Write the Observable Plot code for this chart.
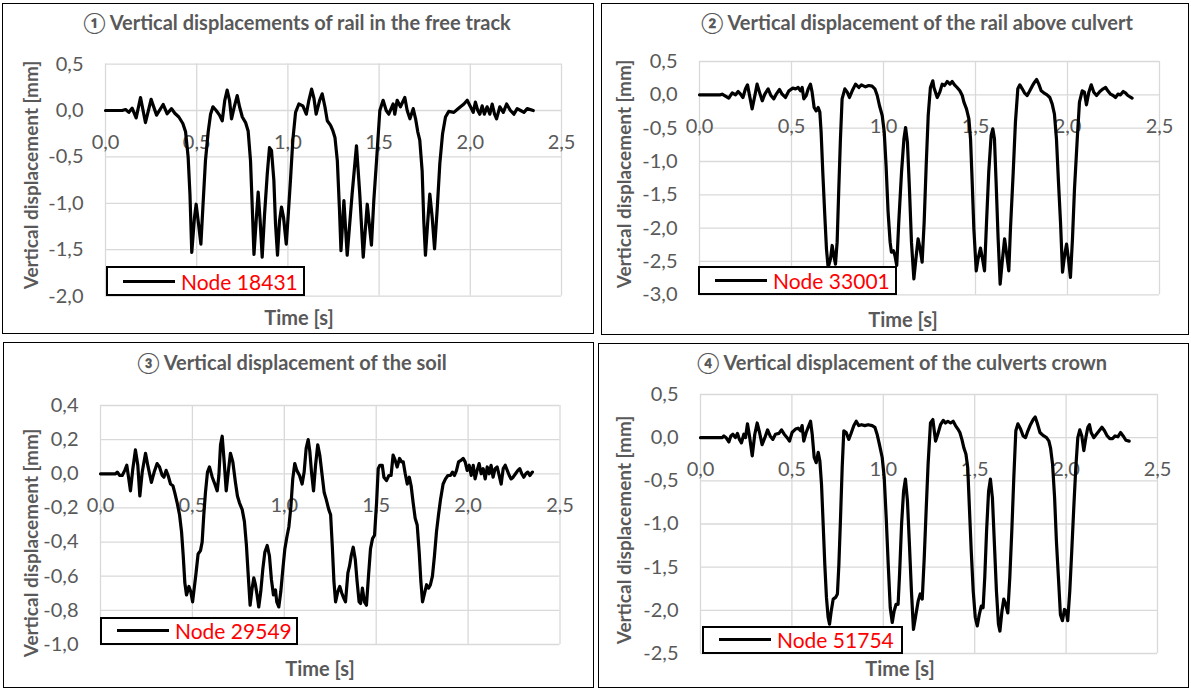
<!DOCTYPE html>
<html>
<head>
<meta charset="utf-8">
<script src="https://cdn.jsdelivr.net/npm/d3@7"></script>
<script src="https://cdn.jsdelivr.net/npm/@observablehq/plot@0.6"></script>
<style>
  body { margin: 0; background: #fff; }
  #page { position: relative; width: 1191px; height: 689px; overflow: hidden; font-family: Lato, "Open Sans", sans-serif; }
  .frame { position: absolute; border: 1.5px solid #000; box-sizing: border-box; }
  .plotbox { position: absolute; }
  .title { position: absolute; transform: translate(-50%, -50%); font-weight: 700; color: #595959; font-size: 20px; white-space: nowrap; }
  .ytitle { position: absolute; transform: translate(-50%, -50%) rotate(-90deg); font-weight: 700; color: #595959; font-size: 19px; white-space: nowrap; }
  .xtitle { position: absolute; transform: translate(-50%, -50%); font-weight: 700; color: #595959; font-size: 20px; white-space: nowrap; }
  .legend { position: absolute; border: 2px solid #000; background: #fff; box-sizing: border-box; display: flex; align-items: center; }
  .legend .swatch { width: 52px; height: 3px; background: #000; margin-left: 15px; margin-right: 6px; }
  .legend .label { color: #ff0000; font-size: 21px; white-space: nowrap; }
</style>
</head>
<body>
<div id="page"></div>
<script>
// Time [s] / vertical displacement [mm] samples for each monitored node
const freeTrack = [[0,0],[0.091,0],[0.110,0.01],[0.128,-0.02],[0.146,0.025],[0.168,-0.08],[0.192,0.14],[0.219,-0.13],[0.250,0.12],[0.280,-0.05],[0.316,0.065],[0.338,-0.035],[0.362,0.02],[0.380,-0.03],[0.402,-0.07],[0.424,-0.14],[0.439,-0.23],[0.453,-0.50],[0.463,-0.90],[0.473,-1.53],[0.488,-1.15],[0.497,-1.01],[0.508,-1.19],[0.523,-1.44],[0.534,-1.04],[0.548,-0.54],[0.563,-0.23],[0.576,-0.04],[0.589,0.04],[0.607,0],[0.625,-0.05],[0.640,-0.11],[0.654,0.11],[0.667,0.22],[0.680,0.11],[0.691,-0.09],[0.706,0.04],[0.722,0.16],[0.735,0.04],[0.750,-0.07],[0.768,-0.13],[0.782,-0.22],[0.795,-0.54],[0.804,-1.01],[0.814,-1.55],[0.826,-1.19],[0.837,-0.88],[0.848,-1.19],[0.859,-1.58],[0.872,-1.12],[0.887,-0.68],[0.899,-0.40],[0.910,-0.43],[0.923,-0.75],[0.932,-1.22],[0.943,-1.56],[0.954,-1.19],[0.965,-1.04],[0.976,-1.15],[0.991,-1.44],[1.002,-1.12],[1.015,-0.72],[1.027,-0.32],[1.042,-0.02],[1.060,0.07],[1.082,0.05],[1.101,-0.04],[1.115,0.11],[1.130,0.23],[1.143,0.13],[1.155,-0.04],[1.174,0.11],[1.188,0.18],[1.203,0.04],[1.216,-0.11],[1.234,-0.16],[1.247,-0.22],[1.258,-0.29],[1.271,-0.54],[1.283,-1.08],[1.291,-1.51],[1.307,-0.97],[1.325,-1.56],[1.352,-0.90],[1.376,-0.38],[1.394,-0.90],[1.413,-1.58],[1.435,-1.01],[1.458,-1.45],[1.471,-0.97],[1.486,-0.54],[1.504,0],[1.522,0.11],[1.539,0],[1.553,-0.04],[1.577,0.07],[1.586,-0.04],[1.599,0.11],[1.617,0.04],[1.641,0.14],[1.654,0],[1.669,-0.09],[1.687,0.02],[1.700,-0.09],[1.712,-0.23],[1.723,-0.32],[1.736,-0.65],[1.745,-1.19],[1.754,-1.56],[1.767,-1.19],[1.778,-0.90],[1.791,-1.15],[1.804,-1.49],[1.818,-1.08],[1.833,-0.57],[1.848,-0.25],[1.864,-0.07],[1.882,-0.01],[1.910,-0.02],[1.928,0.01],[1.946,0.04],[1.965,0.07],[1.983,0.11],[2.001,0.04],[2.016,-0.02],[2.028,0.09],[2.041,0],[2.052,-0.04],[2.065,0.05],[2.077,-0.04],[2.092,0.04],[2.107,-0.04],[2.120,0.07],[2.133,-0.04],[2.144,-0.09],[2.162,0.04],[2.181,-0.02],[2.199,0.07],[2.220,0],[2.239,-0.04],[2.257,0.02],[2.276,0],[2.294,-0.02],[2.312,0.02],[2.345,0]];

const railAboveCulvert = [[0,0],[0.114,0],[0.123,0.01],[0.141,-0.02],[0.159,-0.05],[0.178,0.03],[0.196,0],[0.210,0.05],[0.223,0.01],[0.236,-0.04],[0.250,0.09],[0.261,0.15],[0.272,-0.01],[0.286,-0.21],[0.301,-0.01],[0.313,0.16],[0.326,0.04],[0.341,-0.09],[0.355,0.01],[0.373,0.09],[0.388,-0.01],[0.404,-0.06],[0.417,0.01],[0.435,0.08],[0.449,0.01],[0.467,-0.04],[0.486,0.06],[0.507,0.10],[0.522,0.09],[0.536,0.11],[0.549,0.06],[0.558,0.11],[0.567,-0.06],[0.580,-0.01],[0.591,0.09],[0.603,0.16],[0.612,0.04],[0.623,-0.19],[0.634,-0.24],[0.645,-0.19],[0.654,-0.26],[0.661,-0.56],[0.670,-1.16],[0.681,-1.81],[0.690,-2.31],[0.699,-2.59],[0.712,-2.46],[0.721,-2.26],[0.730,-2.41],[0.739,-2.54],[0.748,-2.21],[0.757,-1.41],[0.766,-0.66],[0.775,-0.06],[0.790,0.09],[0.803,0.04],[0.815,-0.04],[0.830,0.06],[0.848,0.16],[0.866,0.11],[0.880,0.15],[0.902,0.12],[0.920,0.14],[0.938,0.13],[0.953,0.09],[0.966,-0.01],[0.978,-0.16],[0.993,-0.31],[1.004,-0.56],[1.014,-1.06],[1.025,-1.76],[1.036,-2.21],[1.043,-2.36],[1.054,-2.34],[1.062,-2.41],[1.072,-2.56],[1.083,-1.91],[1.098,-1.16],[1.111,-0.66],[1.120,-0.49],[1.130,-0.71],[1.141,-1.41],[1.152,-2.21],[1.165,-2.76],[1.178,-2.41],[1.188,-2.16],[1.199,-2.31],[1.210,-2.51],[1.221,-1.91],[1.232,-1.06],[1.243,-0.31],[1.255,0.11],[1.268,0.21],[1.274,0.11],[1.292,-0.04],[1.306,0.04],[1.319,0.16],[1.332,0.14],[1.346,0.20],[1.361,0.16],[1.373,0.20],[1.386,0.15],[1.400,0.11],[1.415,0.06],[1.428,-0.01],[1.437,-0.11],[1.451,-0.21],[1.464,-0.36],[1.473,-0.66],[1.482,-1.31],[1.491,-2.01],[1.504,-2.64],[1.514,-2.46],[1.527,-2.30],[1.538,-2.46],[1.549,-2.64],[1.560,-1.91],[1.572,-1.16],[1.585,-0.61],[1.594,-0.51],[1.603,-0.66],[1.612,-1.31],[1.623,-2.16],[1.634,-2.84],[1.645,-2.51],[1.658,-2.16],[1.668,-2.36],[1.681,-2.64],[1.690,-2.01],[1.705,-1.16],[1.717,-0.41],[1.730,0.09],[1.741,0.15],[1.754,0.09],[1.766,0.03],[1.781,-0.01],[1.795,0.06],[1.808,0.13],[1.821,0.19],[1.832,0.23],[1.844,0.16],[1.857,0.06],[1.871,0.03],[1.889,0],[1.904,-0.04],[1.917,-0.14],[1.929,-0.29],[1.940,-0.66],[1.951,-1.31],[1.962,-1.91],[1.973,-2.66],[1.984,-2.41],[1.995,-2.24],[2.005,-2.46],[2.016,-2.74],[2.027,-2.16],[2.038,-1.41],[2.053,-0.66],[2.065,-0.11],[2.080,0.06],[2.092,0.04],[2.103,-0.15],[2.116,0.04],[2.129,0.15],[2.143,0.04],[2.158,-0.01],[2.176,0.05],[2.194,0.09],[2.207,0.11],[2.219,0.06],[2.234,0.01],[2.248,-0.01],[2.261,-0.04],[2.274,0.01],[2.288,0],[2.303,0.05],[2.315,0.03],[2.328,-0.01],[2.351,-0.05]];

const soil = [[0,0],[0.082,0],[0.091,0.01],[0.105,-0.01],[0.118,-0.01],[0.132,0.02],[0.143,0.05],[0.154,-0.03],[0.163,-0.10],[0.176,0.03],[0.190,0.14],[0.203,0.05],[0.214,-0.13],[0.227,0.01],[0.245,0.12],[0.259,0.04],[0.277,-0.05],[0.292,0.01],[0.308,0.06],[0.321,0.04],[0.336,-0.01],[0.345,-0.02],[0.357,0.02],[0.368,-0.01],[0.381,-0.06],[0.394,-0.07],[0.404,-0.11],[0.417,-0.17],[0.430,-0.24],[0.441,-0.34],[0.450,-0.48],[0.459,-0.64],[0.468,-0.71],[0.481,-0.66],[0.491,-0.69],[0.501,-0.75],[0.510,-0.67],[0.520,-0.58],[0.531,-0.47],[0.544,-0.45],[0.553,-0.40],[0.562,-0.24],[0.571,-0.11],[0.582,0.01],[0.593,0.04],[0.608,-0.02],[0.622,-0.06],[0.635,-0.10],[0.644,-0.01],[0.653,0.17],[0.662,0.22],[0.673,0.07],[0.684,-0.10],[0.695,0.01],[0.707,0.12],[0.720,0.07],[0.734,-0.05],[0.745,-0.13],[0.756,-0.17],[0.771,-0.21],[0.783,-0.28],[0.794,-0.42],[0.803,-0.58],[0.814,-0.77],[0.825,-0.67],[0.834,-0.61],[0.843,-0.65],[0.852,-0.71],[0.861,-0.78],[0.872,-0.69],[0.883,-0.56],[0.894,-0.46],[0.907,-0.42],[0.919,-0.48],[0.930,-0.62],[0.941,-0.71],[0.952,-0.68],[0.959,-0.75],[0.970,-0.78],[0.981,-0.69],[0.992,-0.56],[1.003,-0.44],[1.014,-0.37],[1.025,-0.31],[1.036,-0.19],[1.046,-0.03],[1.057,0.06],[1.068,0.02],[1.083,-0.01],[1.097,-0.06],[1.108,0.01],[1.119,0.15],[1.130,0.20],[1.139,0.13],[1.148,0.01],[1.159,-0.10],[1.170,0.05],[1.182,0.17],[1.193,0.11],[1.206,-0.01],[1.217,-0.11],[1.228,-0.15],[1.242,-0.21],[1.252,-0.24],[1.261,-0.42],[1.270,-0.63],[1.279,-0.75],[1.291,-0.69],[1.302,-0.66],[1.313,-0.70],[1.324,-0.73],[1.333,-0.75],[1.346,-0.58],[1.355,-0.54],[1.364,-0.48],[1.375,-0.43],[1.386,-0.50],[1.396,-0.63],[1.407,-0.75],[1.415,-0.76],[1.425,-0.67],[1.436,-0.75],[1.447,-0.77],[1.458,-0.60],[1.469,-0.44],[1.480,-0.38],[1.491,-0.36],[1.502,-0.17],[1.511,0.03],[1.520,0.05],[1.533,0.05],[1.542,-0.02],[1.556,-0.04],[1.569,-0.01],[1.581,-0.01],[1.592,0.11],[1.603,0.08],[1.614,0.04],[1.627,0.09],[1.638,0.07],[1.647,0.07],[1.658,0],[1.669,-0.06],[1.680,-0.02],[1.690,-0.07],[1.701,-0.17],[1.712,-0.26],[1.723,-0.30],[1.734,-0.46],[1.743,-0.63],[1.752,-0.75],[1.763,-0.70],[1.774,-0.65],[1.785,-0.67],[1.795,-0.65],[1.806,-0.60],[1.817,-0.48],[1.828,-0.34],[1.839,-0.24],[1.850,-0.15],[1.864,-0.06],[1.877,-0.03],[1.890,-0.01],[1.904,-0.01],[1.915,0.01],[1.926,-0.01],[1.937,0.02],[1.948,0.07],[1.963,0.08],[1.973,0.09],[1.984,0.07],[1.995,0.02],[2.006,0.05],[2.017,-0.01],[2.028,0.05],[2.038,-0.03],[2.049,0.02],[2.060,0.06],[2.071,0],[2.082,0.03],[2.093,-0.03],[2.104,0.04],[2.115,0],[2.125,0.05],[2.136,-0.02],[2.147,0.03],[2.158,0.04],[2.169,-0.01],[2.180,-0.06],[2.191,0.03],[2.202,0.05],[2.213,0.02],[2.224,-0.01],[2.234,-0.03],[2.245,-0.02],[2.258,0],[2.271,0.02],[2.281,0.03],[2.292,0],[2.303,-0.02],[2.314,0],[2.325,0.01],[2.336,-0.01],[2.350,0.01]];

const culvertCrown = [[0,0],[0.119,0],[0.128,0.02],[0.140,0],[0.155,-0.05],[0.166,0.02],[0.177,0.04],[0.191,0],[0.202,0.05],[0.213,-0.02],[0.224,-0.06],[0.237,0.04],[0.246,0],[0.257,0.16],[0.268,0.02],[0.283,-0.21],[0.297,0.04],[0.310,0.17],[0.323,0.06],[0.337,-0.08],[0.352,0],[0.367,0.09],[0.381,0.02],[0.396,-0.02],[0.410,0.04],[0.429,0.05],[0.443,0.09],[0.458,0.04],[0.474,0],[0.487,-0.04],[0.501,0.06],[0.520,0.10],[0.534,0.11],[0.547,0.08],[0.556,0.14],[0.565,-0.04],[0.578,0.06],[0.589,0.12],[0.602,0.19],[0.611,0.04],[0.622,-0.23],[0.633,-0.29],[0.644,-0.17],[0.653,-0.27],[0.662,-0.54],[0.671,-1.00],[0.680,-1.47],[0.689,-1.85],[0.698,-2.08],[0.706,-2.16],[0.715,-2.01],[0.726,-1.87],[0.739,-1.85],[0.749,-1.81],[0.757,-1.47],[0.766,-0.93],[0.775,-0.35],[0.784,0.08],[0.797,0.06],[0.811,-0.02],[0.822,0.04],[0.839,0.14],[0.852,0.19],[0.866,0.14],[0.881,0.15],[0.899,0.14],[0.917,0.15],[0.939,0.14],[0.954,0.12],[0.966,0.04],[0.979,-0.08],[0.994,-0.23],[1.005,-0.46],[1.016,-0.93],[1.027,-1.47],[1.038,-1.97],[1.049,-2.14],[1.059,-2.01],[1.070,-1.93],[1.081,-1.93],[1.089,-1.58],[1.100,-1.00],[1.111,-0.62],[1.121,-0.48],[1.132,-0.73],[1.143,-1.24],[1.154,-1.78],[1.165,-2.22],[1.176,-2.08],[1.191,-1.89],[1.202,-1.81],[1.213,-1.87],[1.224,-1.39],[1.235,-0.81],[1.245,-0.31],[1.258,0.17],[1.271,0.21],[1.286,-0.04],[1.298,0.04],[1.313,0.15],[1.328,0.20],[1.340,0.17],[1.353,0.19],[1.368,0.17],[1.382,0.19],[1.395,0.14],[1.408,0.10],[1.419,0.06],[1.430,-0.02],[1.441,-0.12],[1.452,-0.19],[1.462,-0.35],[1.471,-0.81],[1.481,-1.31],[1.492,-1.78],[1.503,-2.08],[1.514,-2.18],[1.525,-2.05],[1.536,-1.95],[1.546,-1.97],[1.555,-1.62],[1.565,-1.08],[1.576,-0.62],[1.586,-0.48],[1.597,-0.70],[1.608,-1.24],[1.619,-1.78],[1.630,-2.16],[1.638,-2.24],[1.649,-2.01],[1.659,-1.87],[1.670,-1.93],[1.681,-2.03],[1.692,-1.62],[1.703,-1.08],[1.714,-0.46],[1.725,0.08],[1.736,0.16],[1.751,0.10],[1.765,0.02],[1.778,0],[1.791,0.08],[1.805,0.15],[1.820,0.21],[1.831,0.24],[1.842,0.17],[1.857,0.06],[1.867,0.04],[1.878,0.02],[1.893,0],[1.906,-0.04],[1.915,-0.12],[1.926,-0.31],[1.937,-0.69],[1.947,-1.20],[1.958,-1.62],[1.969,-2.05],[1.980,-2.12],[1.991,-1.99],[2.000,-2.01],[2.009,-2.12],[2.020,-1.78],[2.031,-1.31],[2.042,-0.81],[2.053,-0.35],[2.064,0],[2.075,0.09],[2.086,0.02],[2.097,-0.15],[2.108,0],[2.119,0.12],[2.128,0.15],[2.137,0.06],[2.152,0],[2.166,0.04],[2.181,0.08],[2.196,0.12],[2.210,0.08],[2.225,0.02],[2.239,-0.01],[2.254,-0.01],[2.268,0.02],[2.283,0.01],[2.298,0.06],[2.312,0.02],[2.327,-0.03],[2.345,-0.04]];

// Axis ticks
const timeTicks = [0, 0.5, 1, 1.5, 2, 2.5];
const railFreeTicks = [0.5, 0, -0.5, -1, -1.5, -2];
const railCulvertTicks = [0.5, 0, -0.5, -1, -1.5, -2, -2.5, -3];
const soilTicks = [0.4, 0.2, 0, -0.2, -0.4, -0.6, -0.8, -1];
const crownTicks = [0.5, 0, -0.5, -1, -1.5, -2, -2.5];

// Text
const titles = [
  "\u2460 Vertical displacements of rail in the free track",
  "\u2461 Vertical displacement of the rail above culvert",
  "\u2462 Vertical displacement of the soil",
  "\u2463 Vertical displacement of the culverts crown"
];
const nodeLabels = ["Node 18431", "Node 33001", "Node 29549", "Node 51754"];
const yTitle = "Vertical displacement [mm]";
const xTitle = "Time [s]";

// Page layout of the four panels (page pixels)
const panels = [
  {data: freeTrack, yTicks: railFreeTicks, title: titles[0], node: nodeLabels[0],
   box: [2, 3, 594, 334], plot: [105, 63.6, 561, 295.6],
   titleAt: [297, 22], yTitleAt: [30, 175], xTitleAt: [299, 317], legend: [106, 266, 305, 296]},
  {data: railAboveCulvert, yTicks: railCulvertTicks, title: titles[1], node: nodeLabels[1],
   box: [601, 3, 1189, 335], plot: [699, 61, 1159, 294.3],
   titleAt: [917, 22], yTitleAt: [623, 174], xTitleAt: [903, 319], legend: [698, 266, 897, 294.5]},
  {data: soil, yTicks: soilTicks, title: titles[2], node: nodeLabels[2],
   box: [3, 342, 594, 688], plot: [100, 405, 559.5, 644],
   titleAt: [292, 362], yTitleAt: [30, 543], xTitleAt: [320, 668], legend: [100, 617, 298, 644.5]},
  {data: culvertCrown, yTicks: crownTicks, title: titles[3], node: nodeLabels[3],
   box: [598, 343, 1189, 688], plot: [700, 394, 1157, 653],
   titleAt: [902, 362], yTitleAt: [623, 530], xTitleAt: [900, 668], legend: [702, 626, 903, 653.5]}
];

const fmt = d => d.toFixed(1).replace(".", ",");
const page = document.getElementById("page");
const grid = "#d9d9d9";
const ink = "#595959";

function place(el, cls, text, x, y) {
  el.className = cls;
  el.textContent = text;
  el.style.left = x + "px";
  el.style.top = y + "px";
  page.appendChild(el);
}

for (const p of panels) {
  const [bl, bt, br, bb] = p.box;
  const [pl, pt, pr, pb] = p.plot;

  const frame = document.createElement("div");
  frame.className = "frame";
  Object.assign(frame.style, {left: bl + "px", top: bt + "px", width: (br - bl) + "px", height: (bb - bt) + "px"});
  page.appendChild(frame);

  const yMax = d3.max(p.yTicks), yMin = d3.min(p.yTicks);
  const chart = Plot.plot({
    width: br - bl,
    height: bb - bt,
    marginLeft: pl - bl,
    marginRight: br - pr,
    marginTop: pt - bt,
    marginBottom: bb - pb,
    style: {background: "none", overflow: "visible", fontFamily: "Lato, 'Open Sans', sans-serif"},
    x: {domain: [0, 2.5], axis: null},
    y: {domain: [yMin, yMax], axis: null},
    marks: [
      Plot.ruleX(timeTicks, {x: d => d, stroke: grid, strokeWidth: 1.3}),
      Plot.ruleY(p.yTicks, {y: d => d, stroke: grid, strokeWidth: 1.3}),
      Plot.text(p.yTicks, {y: d => d, text: fmt, frameAnchor: "left", dx: -22, textAnchor: "end", fill: ink, fontSize: 20}),
      Plot.text(timeTicks, {x: d => d, y: () => 0, text: fmt, dy: 32, fill: ink, fontSize: 20}),
      Plot.line(p.data, {x: d => d[0], y: d => d[1], stroke: "#000", strokeWidth: 3.2, strokeLinejoin: "round", strokeLinecap: "round"})
    ]
  });
  const holder = document.createElement("div");
  holder.className = "plotbox";
  Object.assign(holder.style, {left: bl + "px", top: bt + "px"});
  holder.appendChild(chart);
  page.appendChild(holder);

  place(document.createElement("div"), "title", p.title, p.titleAt[0], p.titleAt[1]);
  place(document.createElement("div"), "ytitle", yTitle, p.yTitleAt[0], p.yTitleAt[1]);
  place(document.createElement("div"), "xtitle", xTitle, p.xTitleAt[0], p.xTitleAt[1]);

  const [ll, lt, lr, lb] = p.legend;
  const legend = document.createElement("div");
  legend.className = "legend";
  Object.assign(legend.style, {left: ll + "px", top: lt + "px", width: (lr - ll) + "px", height: (lb - lt) + "px"});
  const sw = document.createElement("span");
  sw.className = "swatch";
  const lab = document.createElement("span");
  lab.className = "label";
  lab.textContent = p.node;
  legend.appendChild(sw);
  legend.appendChild(lab);
  page.appendChild(legend);
}
</script>
</body>
</html>
